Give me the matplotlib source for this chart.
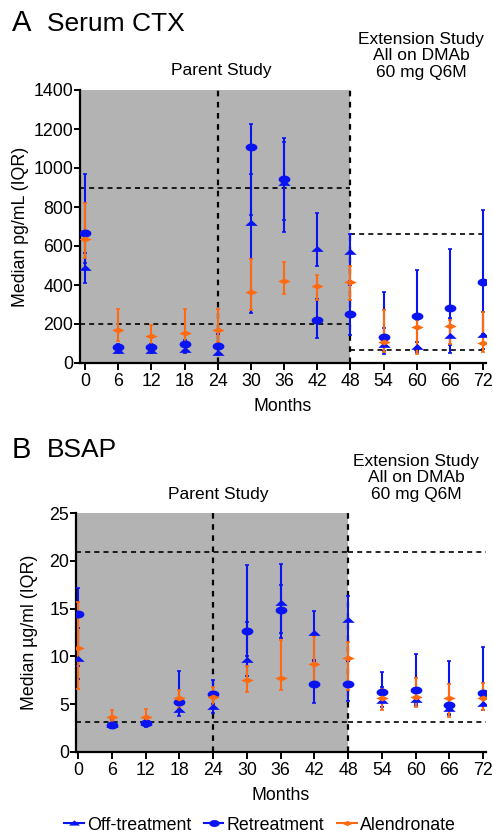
import matplotlib
matplotlib.use("Agg")
import matplotlib.pyplot as plt
import numpy as np
from matplotlib.path import Path
from matplotlib.lines import Line2D

plt.rcParams["font.family"] = ["Liberation Sans", "DejaVu Sans"]

# ---- data (medians and IQR) ----
months = [0, 6, 12, 18, 24, 30, 36, 42, 48, 54, 60, 66, 72]

# Serum CTX, pg/mL
ctx_off = [485, 62, 62, 65, 51, 719, 925, 587, 568, 91, 82, 139, 146]
ctx_off_lo = [411, 50, 50, 50, 40, 258, 733, 497, 400, 60, 55, 51, 74]
ctx_off_hi = [566, 75, 75, 85, 70, 969, 1135, 767, 664, 180, 110, 230, 262]

ctx_ret = [668, 82, 82, 99, 87, 1110, 942, 219, 253, 134, 241, 284, 413]
ctx_ret_lo = [513, 68, 68, 80, 70, 758, 673, 128, 142, 48, 70, 90, 150]
ctx_ret_hi = [969, 98, 98, 120, 150, 1224, 1156, 330, 420, 365, 476, 587, 784]

ctx_aln = [637, 171, 137, 156, 171, 365, 418, 396, 413, 108, 185, 190, 104]
ctx_aln_lo = [536, 115, 80, 100, 110, 270, 356, 322, 322, 57, 48, 99, 57]
ctx_aln_hi = [818, 279, 197, 277, 279, 533, 519, 450, 498, 270, 223, 219, 262]

# BSAP, ug/ml
bsap_off = [9.7, 2.8, 3.0, 4.4, 4.7, 9.6, 15.6, 12.5, 13.8, 5.3, 5.4, 4.5, 5.0]
bsap_off_lo = [7.6, 2.5, 2.6, 3.8, 4.1, 8.0, 11.9, 9.5, 9.5, 4.7, 4.8, 3.9, 4.4]
bsap_off_hi = [13.0, 3.3, 3.4, 5.5, 6.0, 13.6, 19.7, 14.8, 16.3, 6.8, 6.5, 5.5, 6.0]

bsap_ret = [14.4, 2.8, 3.0, 5.2, 6.1, 12.7, 14.9, 7.1, 7.1, 6.3, 6.5, 4.9, 6.2]
bsap_ret_lo = [9.0, 2.5, 2.7, 4.5, 5.0, 10.0, 12.5, 5.1, 5.3, 5.2, 5.0, 4.0, 5.0]
bsap_ret_hi = [17.2, 3.2, 3.3, 8.5, 7.5, 19.6, 17.5, 9.6, 9.5, 8.4, 10.2, 9.5, 11.0]

bsap_aln = [10.9, 3.7, 3.7, 5.6, 5.8, 7.5, 7.7, 9.2, 9.8, 5.7, 5.8, 5.6, 5.7]
bsap_aln_lo = [6.6, 3.2, 3.1, 4.6, 4.8, 6.3, 6.5, 6.8, 6.5, 4.4, 4.7, 3.7, 4.4]
bsap_aln_hi = [15.7, 4.4, 4.5, 6.5, 6.8, 9.0, 11.7, 12.1, 11.5, 6.6, 7.7, 7.1, 7.2]

# reference ranges (dashed lines): parent study / extension study
ctx_ref_parent = [200, 899]
ctx_ref_ext = [68, 664]
bsap_ref_parent = [3.1, 20.9]
bsap_ref_ext = [3.1, 20.9]

# ---- styles ----
W, H = 493, 834
BLUE = "#0a14f2"
ORANGE = "#ff6a10"
GREY = "#b3b3b3"
FS = 12.8

# flattened markers, GraphPad-like
t = np.linspace(0, 2 * np.pi, 40)
ellipse = Path(np.column_stack([1.5 * np.cos(t), np.sin(t)]), closed=True)
tri = Path([(-1.6, -0.6), (0, 0.9), (1.6, -0.6), (-1.6, -0.6)], closed=True)
diamond = Path([(-1.6, 0), (0, 0.75), (1.6, 0), (0, -0.75), (-1.6, 0)], closed=True)


def fx(x):
    return x / W


def fy(y):
    return 1 - y / H


def draw_panel(ax, y_off, y_ret, y_aln, lo_hi, ref_parent, ref_ext,
               ymax, yticks, xlim_left, xlim_right):
    ax.set_xlim(xlim_left, xlim_right)
    ax.set_ylim(0, ymax)
    # shaded parent study period
    ax.axvspan(xlim_left, 48, color=GREY, zorder=0, lw=0)
    ax.axvline(24, color="black", ls=(0, (2.5, 2.5)), lw=1.6, zorder=1)
    ax.axvline(48, color="black", ls=(0, (2.5, 2.5)), lw=1.6, zorder=1)
    for v in ref_parent:
        ax.plot([xlim_left, 48], [v, v], color="black", ls=(0, (3, 2.5)), lw=1.2, zorder=1)
    for v in ref_ext:
        ax.plot([48, xlim_right], [v, v], color="black", ls=(0, (3, 2.5)), lw=1.2, zorder=1)

    series = [
        (y_off, lo_hi[0], BLUE, tri, 9),
        (y_ret, lo_hi[1], BLUE, ellipse, 8.5),
        (y_aln, lo_hi[2], ORANGE, diamond, 9),
    ]
    for z, (vals, (lo, hi), col, mk, ms) in enumerate(series):
        vals = np.array(vals)
        err = [vals - np.array(lo), np.array(hi) - vals]
        ax.errorbar(months, vals, yerr=err, fmt="none", ecolor=col,
                    elinewidth=1.5, capsize=1.5, capthick=1.2, zorder=2 + z)
        ax.plot(months, vals, ls="none", marker=mk, markersize=ms,
                color=col, markeredgewidth=0, zorder=5 + z)

    for s in ["top", "right"]:
        ax.spines[s].set_visible(False)
    for s in ["left", "bottom"]:
        ax.spines[s].set_linewidth(1.6)
    ax.set_xticks(months)
    ax.set_yticks(yticks)
    ax.tick_params(axis="both", direction="out", width=1.4, labelsize=FS)
    ax.tick_params(axis="x", length=5, pad=2)
    ax.tick_params(axis="y", length=4, pad=1)
    ax.set_xlabel("Months", fontsize=FS, labelpad=6)


fig = plt.figure(figsize=(W / 100, H / 100), dpi=100)

# Panel A  (x=0 at px 85, x=72 at px 483)
axA = fig.add_axes([fx(80), fy(363), fx(486 - 80), (363 - 90) / H])
draw_panel(axA, ctx_off, ctx_ret, ctx_aln,
           [(ctx_off_lo, ctx_off_hi), (ctx_ret_lo, ctx_ret_hi), (ctx_aln_lo, ctx_aln_hi)],
           ctx_ref_parent, ctx_ref_ext, 1400, range(0, 1401, 200), -0.9, 72.5)
axA.set_ylabel("Median pg/mL (IQR)", fontsize=FS, labelpad=3)

# Panel B  (x=0 at px 78, x=72 at px 483)
axB = fig.add_axes([fx(76), fy(752), fx(486 - 76), (752 - 513) / H])
draw_panel(axB, bsap_off, bsap_ret, bsap_aln,
           [(bsap_off_lo, bsap_off_hi), (bsap_ret_lo, bsap_ret_hi), (bsap_aln_lo, bsap_aln_hi)],
           bsap_ref_parent, bsap_ref_ext, 25, range(0, 26, 5), -0.36, 72.5)
axB.set_ylabel("Median \u00b5g/ml (IQR)", fontsize=FS, labelpad=8)

# titles and annotations
fig.text(fx(12), fy(23), "A", fontsize=21, va="center", ha="left")
fig.text(fx(47), fy(24), "Serum CTX", fontsize=19, va="center", ha="left")
fig.text(fx(221), fy(70), "Parent Study", fontsize=12.5, va="center", ha="center")
fig.text(fx(421), fy(56), "Extension Study\nAll on DMAb\n60 mg Q6M", fontsize=12.5,
         va="center", ha="center", linespacing=1.1)

fig.text(fx(12), fy(450), "B", fontsize=21, va="center", ha="left")
fig.text(fx(47), fy(450), "BSAP", fontsize=19, va="center", ha="left")
fig.text(fx(218), fy(494), "Parent Study", fontsize=12.5, va="center", ha="center")
fig.text(fx(416), fy(478), "Extension Study\nAll on DMAb\n60 mg Q6M", fontsize=12.5,
         va="center", ha="center", linespacing=1.1)

handles = [
    Line2D([], [], color=BLUE, marker=tri, markersize=8, lw=1.5, markeredgewidth=0),
    Line2D([], [], color=BLUE, marker=ellipse, markersize=7.5, lw=1.5, markeredgewidth=0),
    Line2D([], [], color=ORANGE, marker=diamond, markersize=8, lw=1.5, markeredgewidth=0),
]
fig.legend(handles, ["Off-treatment", "Retreatment", "Alendronate"],
           loc="center", bbox_to_anchor=(fx(260), fy(825)), ncol=3, frameon=False,
           fontsize=FS, handlelength=1.1, handletextpad=0.2, columnspacing=0.7,
           borderpad=0)

fig.savefig("out.png", dpi=100)
